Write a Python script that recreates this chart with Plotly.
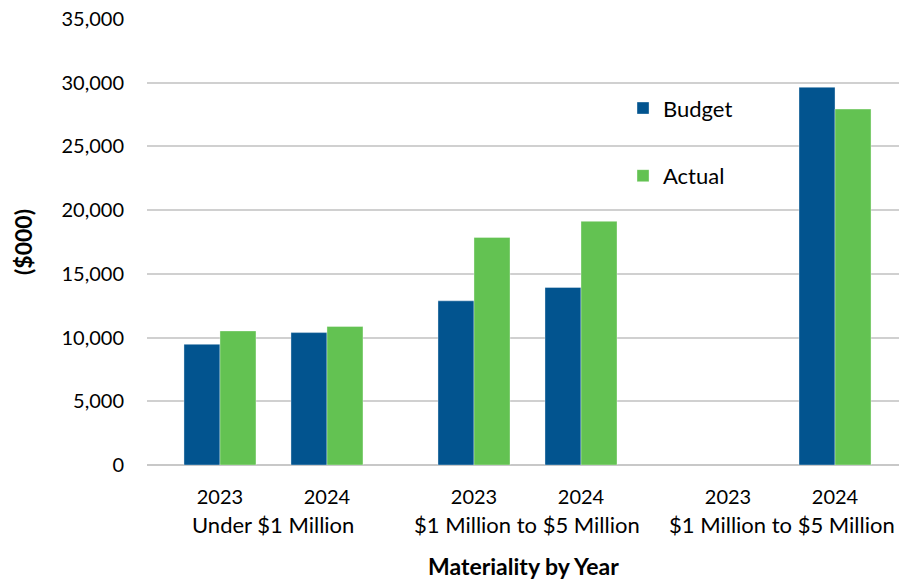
import plotly.graph_objects as go

# Materiality bands and years
groups = ["Under $1 Million", "$1 Million to $5 Million", "$1 Million to $5 Million"]
years = ["2023", "2024"]

# Values in $000, ordered group by group, year by year
budget = [9470, 10390, 12880, 13930, None, 29640]
actual = [10520, 10870, 17860, 19120, None, 27930]

BLUE = "#02548F"
GREEN = "#63C252"
FONT = "Lato"

# Horizontal layout: years one unit apart, bands separated by a wider step
GROUP_STEP = 2.374
xpos = [gi * GROUP_STEP + yi for gi in range(len(groups)) for yi in range(len(years))]
year_labels = [y for _ in groups for y in years]
group_centers = [gi * GROUP_STEP + (len(years) - 1) / 2 for gi in range(len(groups))]

fig = go.Figure()
fig.add_trace(go.Bar(x=xpos, y=budget, name="Budget", marker_color=BLUE,
                     marker_line=dict(color="rgba(255,255,255,0.35)", width=1),
                     legendgroup="b"))
fig.add_trace(go.Bar(x=xpos, y=actual, name="Actual", marker_color=GREEN,
                     marker_line=dict(color="rgba(255,255,255,0.35)", width=1),
                     legendgroup="a"))

annotations = []
for gc, g in zip(group_centers, groups):
    annotations.append(dict(x=gc, y=0, xref="x", yref="paper", text=g, showarrow=False,
                            yanchor="middle", yshift=-59,
                            font=dict(family=FONT, size=22, color="#000000")))
annotations.append(dict(x=0.5, y=0, xref="paper", yref="paper", text="<b>Materiality by Year</b>",
                        showarrow=False, yanchor="middle", yshift=-101,
                        font=dict(family=FONT, size=23, color="#000000")))

fig.update_layout(
    width=899, height=583,
    margin=dict(l=147, r=0, t=19, b=118),
    paper_bgcolor="white", plot_bgcolor="white",
    barmode="group", bargap=0.327, bargroupgap=0,
    font=dict(family=FONT, size=19, color="#000000"),
    showlegend=True,
    legend=dict(x=0.633, y=0.847, xanchor="left", yanchor="top",
                traceorder="grouped", tracegroupgap=36,
                font=dict(family=FONT, size=22, color="#000000"),
                bgcolor="rgba(0,0,0,0)"),
    annotations=annotations,
    xaxis=dict(range=[-0.682, 6.346], tickmode="array", tickvals=xpos, ticktext=year_labels,
               showgrid=False, zeroline=False, showline=False, ticks="",
               ticklabelstandoff=18, tickfont=dict(family=FONT, size=20)),
    yaxis=dict(range=[0, 35000], dtick=5000, tickformat=",", showgrid=True,
               gridcolor="#D0D0D0", gridwidth=2, zeroline=True, zerolinecolor="#C8C8C8",
               zerolinewidth=2, showline=False, ticks="", ticklabelstandoff=22,
               tickfont=dict(family=FONT, size=20),
               title=dict(text="<b>($000)</b>", font=dict(family=FONT, size=23), standoff=22)),
)

fig.write_html("out.html")
